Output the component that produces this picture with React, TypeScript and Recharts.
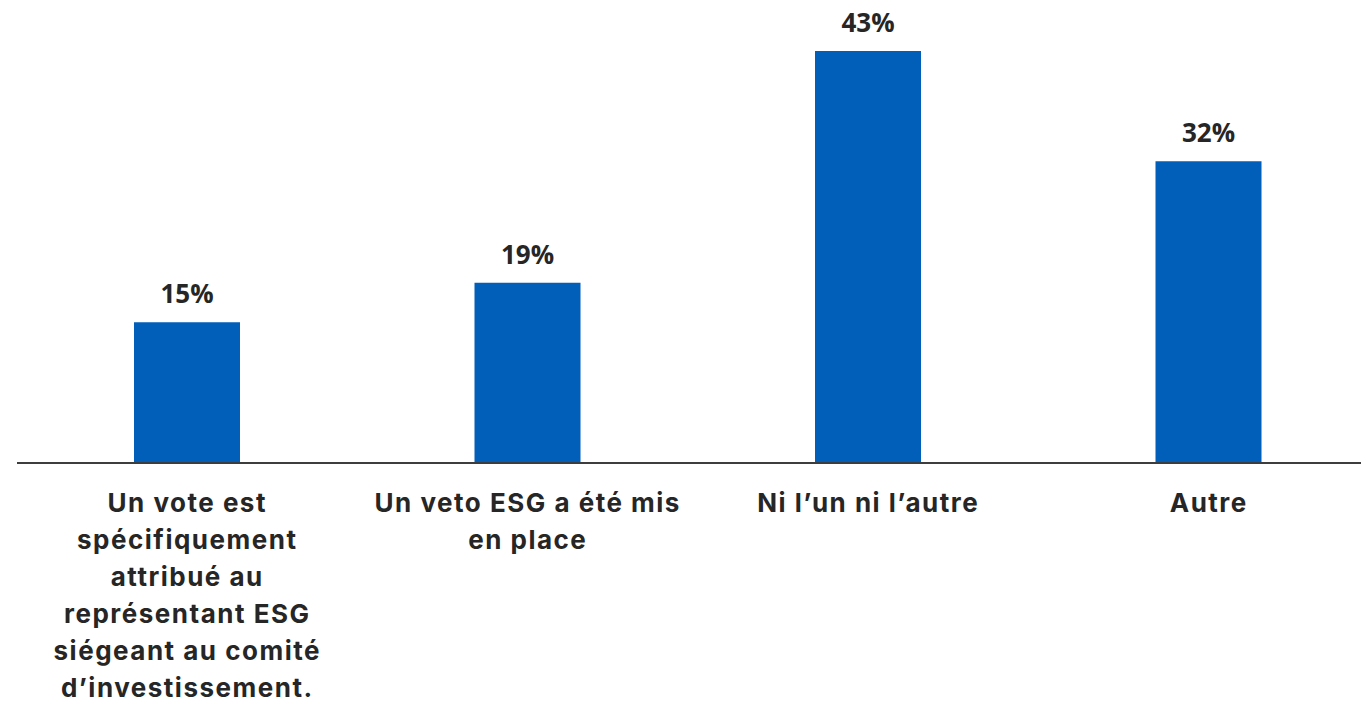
import { BarChart, Bar, XAxis, YAxis, LabelList } from 'recharts';

// Categories, line breaks as in the source
const categories = [
	'Un vote est\nspécifiquement\nattribué au\nreprésentant ESG\nsiégeant au comité\nd’investissement.',
	'Un veto ESG a été mis\nen place',
	'Ni l’un ni l’autre',
	'Autre',
];

// Share of respondents (%)
const shares = [14.7, 18.8, 43, 31.5];

const data = categories.map((name, i) => ({ name, value: shares[i] }));

const CategoryTick = (props: any) => {
	const { x, y, payload } = props;
	const lines: string[] = String(payload.value).split('\n');
	return (
		<text
			x={x}
			y={y}
			textAnchor='middle'
			fill='#262626'
			fontFamily='Inter, sans-serif'
			fontWeight={700}
			fontSize={26}
			letterSpacing={1.5}>
			{lines.map((line, i) => (
				<tspan key={i} x={x} dy={i === 0 ? 49 : 37}>
					{line}
				</tspan>
			))}
		</text>
	);
};

export default function App() {
	return (
		<div
			style={{
				position: 'absolute',
				left: 0,
				top: 0,
				width: 1361,
				height: 706,
				overflow: 'hidden',
				background: '#fff',
			}}>
			<BarChart
				width={1400}
				height={706}
				data={data}
				margin={{ top: 51, right: 21, bottom: 0, left: 17 }}>
				<XAxis
					dataKey='name'
					interval={0}
					height={243}
					tickLine={false}
					tickSize={0}
					tickMargin={0}
					axisLine={{ stroke: '#3d3d3d', strokeWidth: 2 }}
					tick={<CategoryTick />}
				/>
				<YAxis hide domain={[0, 43]} />
				<Bar dataKey='value' fill='#015EB9' barSize={106} isAnimationActive={false}>
					<LabelList
						dataKey='value'
						position='top'
						offset={19}
						formatter={(v: any) => `${Math.round(Number(v))}%`}
						fill='#262626'
						fontFamily='"Open Sans", sans-serif'
						fontWeight={700}
						fontSize={26}
					/>
				</Bar>
			</BarChart>
		</div>
	);
}
